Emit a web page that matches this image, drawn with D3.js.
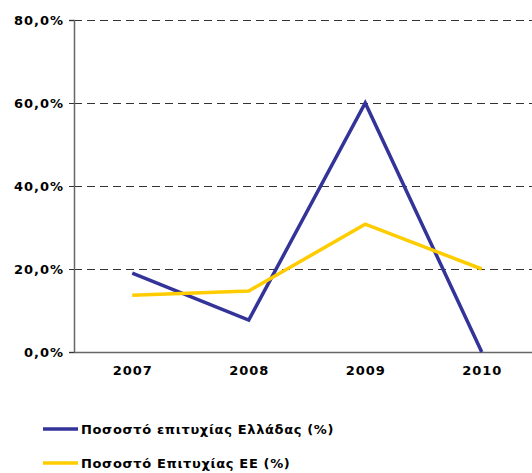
<!DOCTYPE html>
<meta charset="utf-8">
<html>
  <head>
    <script src="https://d3js.org/d3.v7.min.js"></script>
    <style type="text/css">
      body{ margin:0; font: bold 13px "DejaVu Sans", Verdana, sans-serif; }
      .grid line{ stroke:#333; stroke-dasharray:8,5; }
      .grid path{ display:none; }
      .axis text{ font: bold 13px "DejaVu Sans", Verdana, sans-serif; fill:#000; letter-spacing:1px; }
      .legend text{ letter-spacing:0.65px; }
    </style>
  </head>
  <body>
    <div id="plot"></div>
  <script>
    var years = ["2007","2008","2009","2010"];
    var greece = [19.0, 7.7, 60.0, 0.0];
    var eu = [13.7, 14.7, 30.8, 20.0];
    var yTicks = [0,20,40,60,80];
    var seriesNames = ["Ποσοστό επιτυχίας Ελλάδας (%)", "Ποσοστό Επιτυχίας ΕΕ (%)"];
    var colors = ["#333399", "#FFCC00"];

    var margin = {top:20, left:74},
        width = 466, height = 332;

    var svg = d3.select("#plot").append("svg")
        .attr("width",532).attr("height",473)
      .append("g")
        .attr("transform","translate("+margin.left+","+margin.top+")");

    var x = d3.scalePoint().domain(years).range([0,width]).padding(0.5);
    var y = d3.scaleLinear().domain([0,80]).range([height,0]);

    // grid
    svg.append("g").attr("class","grid")
       .call(d3.axisLeft(y).tickValues(yTicks.slice(1)).tickSize(-width).tickFormat(""));

    // y axis
    var yAx = svg.append("g").attr("class","axis")
       .call(d3.axisLeft(y).tickValues(yTicks).tickSize(5).tickPadding(5)
          .tickFormat(function(d){ return d.toFixed(1).replace(".",",")+"%"; }));
    yAx.select("path").attr("stroke","#666").attr("stroke-width",1.5);
    yAx.selectAll("line").attr("stroke","#333");

    // x axis
    var xAx = svg.append("g").attr("class","axis")
       .attr("transform","translate(0,"+height+")")
       .call(d3.axisBottom(x).tickSize(0).tickPadding(14));
    xAx.select("path").attr("stroke","#666").attr("stroke-width",1.5);

    var line = d3.line().x(function(d,i){ return x(years[i]); }).y(function(d){ return y(d); });
    [greece, eu].forEach(function(s,i){
      svg.append("path").datum(s)
         .attr("d",line).attr("fill","none")
         .attr("stroke",colors[i]).attr("stroke-width",3.5);
    });

    // legend
    var legend = d3.select("svg").append("g");
    var l = legend.selectAll(".legend").data(seriesNames).enter().append("g")
       .attr("class","legend")
       .attr("transform",function(d,i){ return "translate(43,"+(429+i*34)+")"; });
    l.append("line").attr("x1",0).attr("x2",35).attr("y1",0).attr("y2",0)
       .attr("stroke",function(d,i){ return colors[i]; }).attr("stroke-width",3.5);
    l.append("text").attr("x",38).attr("dy",".35em").text(function(d){ return d; });
  </script>
  </body>
</html>
